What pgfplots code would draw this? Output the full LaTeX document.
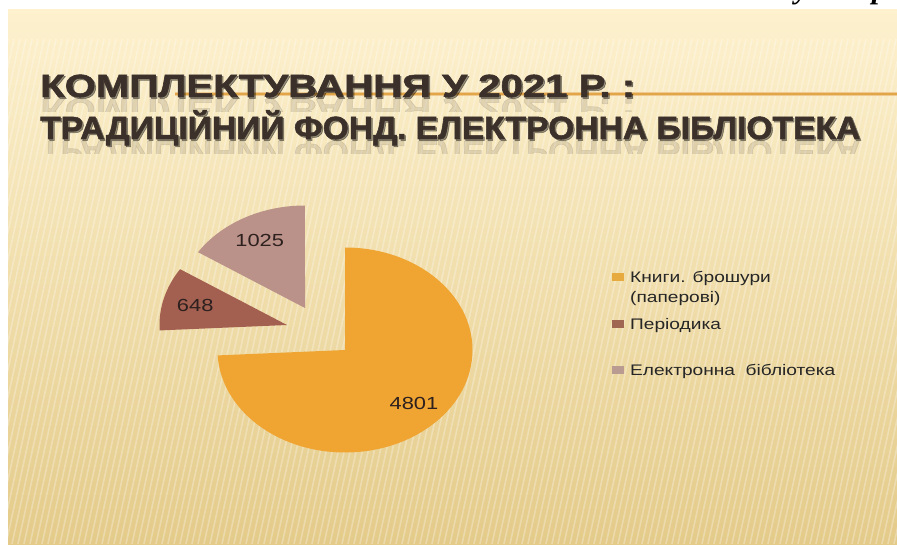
\documentclass[border=0pt]{standalone}
\usepackage{graphicx}
\usepackage{pgfplots}
\pgfplotsset{compat=1.18}
\usepackage{pgfplotstable}
\usepackage{fontspec}
\setmainfont{Liberation Sans}
\newfontfamily\titlefont[FakeBold=1.6]{Liberation Sans}
\newfontfamily\legfont[FakeStretch=1.25]{Liberation Sans}
\newfontfamily\hdrfont{Liberation Serif}

\definecolor{slideTop}{RGB}{253,241,206}
\definecolor{slideMid}{RGB}{255,245,212}
\definecolor{slideBot}{RGB}{228,203,138}
\definecolor{titleCol}{RGB}{60,49,42}
\definecolor{ruleCol}{RGB}{226,166,72}
\definecolor{sliceA}{RGB}{240,165,50}
\definecolor{sliceB}{RGB}{163,96,80}
\definecolor{sliceC}{RGB}{186,146,137}
\definecolor{labelCol}{RGB}{45,32,30}
\definecolor{legA}{RGB}{230,170,65}
\definecolor{legB}{RGB}{160,102,82}
\definecolor{legC}{RGB}{185,155,145}

% values of the pie: paper books, periodicals, e-library
\pgfplotstableread{
value apexx apexy
4801 345 194
648 287 219
1025 305 236
}\piedata

\newcommand\titletext[3]{% #1 y of baseline, #2 width, #3 text
  \begin{scope}
    \clip (30,#1-15) rectangle (897,#1);
    \node[anchor=base west, inner sep=0pt, opacity=0.13, text=titleCol] at (40,#1-2)
      {\scalebox{1}[-1]{\resizebox{#2}{\height}{#3}}};
  \end{scope}
  \node[anchor=base west, inner sep=0pt, opacity=0.4, text=black] at (41.5,#1-1.5) {\resizebox{#2}{\height}{#3}};
  \node[anchor=base west, inner sep=0pt, text=titleCol] at (40,#1) {\resizebox{#2}{\height}{#3}};
}

\begin{document}
\begin{tikzpicture}
\begin{axis}[
  at={(0,0)}, anchor=origin,
  x=1pt, y=1pt,
  xmin=0, xmax=897, ymin=0, ymax=544,
  hide axis, clip=false,
]
\pgfplotsextra{
  % page and slide background
  \fill[white] (0,0) rectangle (897,544);
  \node[anchor=base west, inner sep=0pt, font=\hdrfont\bfseries\itshape\fontsize{30}{30}\selectfont] at (795,545.5) {у};
  \node[anchor=base west, inner sep=0pt, font=\hdrfont\bfseries\itshape\fontsize{30}{30}\selectfont] at (872,545.5) {р};
  \shade[top color=slideTop, middle color=slideMid, bottom color=slideBot] (8,0) rectangle (897,534);
  \begin{scope}
    \clip (8,0) rectangle (897,505);
    \foreach \s in {-120,-114,...,900} {
      \draw[white, opacity=0.28, line width=1.6pt] (\s,0) -- (\s+110,505);
    }
  \end{scope}
  % orange rule behind the title
  \fill[ruleCol!60!white] (175,447.5) rectangle (897,451.5);
  \fill[ruleCol] (175,448.5) rectangle (897,450.5);
  % title
  \begingroup
  \titlefont\bfseries\fontsize{32}{32}\selectfont
  \titletext{447}{595pt}{КОМПЛЕКТУВАННЯ У 2021 Р. :}
  \titletext{405}{820pt}{ТРАДИЦІЙНИЙ ФОНД. ЕЛЕКТРОННА БІБЛІОТЕКА}
  \endgroup
  % pie slices
  \pgfplotstablegetelem{0}{value}\of\piedata \let\vA\pgfplotsretval
  \pgfplotstablegetelem{1}{value}\of\piedata \let\vB\pgfplotsretval
  \pgfplotstablegetelem{2}{value}\of\piedata \let\vC\pgfplotsretval
  \pgfmathsetmacro\tot{\vA+\vB+\vC}
  \pgfmathsetmacro\fA{\vA/\tot}
  \pgfmathsetmacro\fB{\vB/\tot}
  \foreach \r/\col in {0/sliceA,1/sliceB,2/sliceC} {
    \pgfplotstablegetelem{\r}{value}\of\piedata \let\v\pgfplotsretval
    \pgfplotstablegetelem{\r}{apexx}\of\piedata \let\ax\pgfplotsretval
    \pgfplotstablegetelem{\r}{apexy}\of\piedata \let\ay\pgfplotsretval
    \pgfmathsetmacro\sa{90-360*(\r>0)*\fA-360*(\r>1)*\fB}
    \pgfmathsetmacro\ea{\sa-360*(\v/\tot)}
    \pgfmathsetmacro\ma{(\sa+\ea)/2}
    \fill[\col] (\ax,\ay) -- ++(\sa:127.5pt and 102.5pt)
      arc[start angle=\sa, end angle=\ea, x radius=127.5pt, y radius=102.5pt] -- cycle;
    \path (\ax,\ay) ++(\ma:95pt and 77pt)
      node[text=labelCol, font=\legfont\fontsize{17.5}{17.5}\selectfont] {\v};
  }
  % legend
  \fill[legA] (612,263) rectangle (624,271);
  \fill[legB] (612,216) rectangle (624,224);
  \fill[legC] (612,170) rectangle (624,178);
  \begingroup
  \legfont\fontsize{15.3}{15.3}\selectfont
  \node[anchor=base west, inner sep=0pt, text=black!85] at (630,261.5) {Книги. брошури};
  \node[anchor=base west, inner sep=0pt, text=black!85] at (630,241.5) {(паперові)};
  \node[anchor=base west, inner sep=0pt, text=black!85] at (630,214.5) {Періодика};
  \node[anchor=base west, inner sep=0pt, text=black!85] at (630,168.5) {Електронна~~бібліотека};
  \endgroup
}
\end{axis}
\pgfresetboundingbox
\path[use as bounding box] (0,0) rectangle (897pt,544pt);
\end{tikzpicture}
\end{document}
